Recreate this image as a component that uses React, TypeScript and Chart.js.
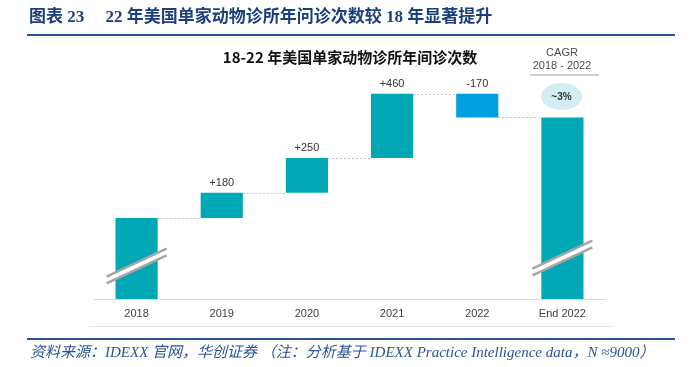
import React, { useEffect, useRef } from 'react';
import { Chart, registerables } from 'chart.js';

Chart.register(...registerables);

// ---- data ----
const categories = ['2018', '2019', '2020', '2021', '2022', 'End 2022'];
const start2018 = 5740; // value of 2018 is not printed (broken bar); estimated
const changes = [180, 250, 460, -170];
const changeLabels = ['+180', '+250', '+460', '-170'];
const axisMin = 5160;
const axisMax = 6728;
const cagrHeader = ['CAGR', '2018 - 2022'];
const cagrLabel = '~3%';
const titleText = '图表 23\u3000 22 年美国单家动物诊所年问诊次数较 18 年显著提升';
const chartTitle = '18-22 年美国单家动物诊所年间诊次数';
const sourceText = '资料来源：IDEXX 官网，华创证券 （注：分析基于 IDEXX Practice Intelligence data，N ≈9000）';

const TEAL = '#00A7B5';
const BLUE = '#00A0E0';

function buildRanges(): [number, number][] {
  const ranges: [number, number][] = [[axisMin, start2018]];
  let total = start2018;
  for (const c of changes) {
    ranges.push([total, total + c]);
    total += c;
  }
  ranges.push([axisMin, total]);
  return ranges;
}

const ranges = buildRanges();
const barColors = ranges.map((r, i) => (i > 0 && i <= changes.length && changes[i - 1] < 0 ? BLUE : TEAL));

const waterfallPlugin = {
  id: 'waterfallDecor',
  afterDatasetsDraw(chart: any) {
    const ctx = chart.ctx;
    const meta = chart.getDatasetMeta(0);
    const y = chart.scales.y;
    const area = chart.chartArea;
    ctx.save();
    // dotted connectors
    ctx.setLineDash([2, 2]);
    ctx.strokeStyle = '#bdbdbd';
    ctx.lineWidth = 1;
    for (let i = 0; i < ranges.length - 1; i++) {
      const b = meta.data[i];
      const nb = meta.data[i + 1];
      const py = Math.round(y.getPixelForValue(ranges[i][1])) + 0.5;
      ctx.beginPath();
      ctx.moveTo(b.x + b.width / 2, py);
      ctx.lineTo(nb.x - nb.width / 2, py);
      ctx.stroke();
    }
    ctx.setLineDash([]);
    // change labels
    ctx.fillStyle = '#333333';
    ctx.font = '11px "Liberation Sans", Arial, sans-serif';
    ctx.textAlign = 'center';
    ctx.textBaseline = 'bottom';
    for (let i = 1; i <= changes.length; i++) {
      const b = meta.data[i];
      const top = Math.min(y.getPixelForValue(ranges[i][0]), y.getPixelForValue(ranges[i][1]));
      ctx.fillText(changeLabels[i - 1], b.x, top - 4);
    }
    // axis-break marks on the two full bars
    const breaks: [number, number][] = [[0, 33], [ranges.length - 1, 41]];
    for (const [idx, off] of breaks) {
      const b = meta.data[idx];
      const cx = b.x;
      const cy = area.bottom - off;
      const hw = 30;
      const dy = 14;
      ctx.strokeStyle = '#ffffff';
      ctx.lineWidth = 7;
      ctx.beginPath();
      ctx.moveTo(cx - hw, cy + dy);
      ctx.lineTo(cx + hw, cy - dy);
      ctx.stroke();
      ctx.strokeStyle = '#a6a6a6';
      ctx.lineWidth = 2.6;
      for (const s of [-3.4, 3.4]) {
        ctx.beginPath();
        ctx.moveTo(cx - hw, cy + dy + s);
        ctx.lineTo(cx + hw, cy - dy + s);
        ctx.stroke();
      }
    }
    ctx.restore();
  },
};

export default function App() {
  const canvasRef = useRef<HTMLCanvasElement | null>(null);

  useEffect(() => {
    if (!canvasRef.current) return;
    const chart = new Chart(canvasRef.current, {
      type: 'bar',
      data: {
        labels: categories,
        datasets: [
          {
            data: ranges as any,
            backgroundColor: barColors,
            borderWidth: 0,
            categoryPercentage: 0.5,
            barPercentage: 0.99,
          },
        ],
      },
      options: {
        animation: false,
        responsive: false,
        devicePixelRatio: 1,
        layout: { padding: { top: 80, left: 94, right: 88, bottom: 0 } },
        plugins: { legend: { display: false }, tooltip: { enabled: false }, title: { display: false } },
        scales: {
          x: {
            grid: { display: false, drawTicks: false },
            border: { color: '#d9d9d9', width: 1 },
            ticks: {
              color: '#404040',
              font: { family: '"Liberation Sans", Arial, sans-serif', size: 11 },
              padding: 8,
            },
            afterFit: (s: any) => {
              s.height = 68;
            },
          },
          y: { display: false, min: axisMin, max: axisMax },
        },
      },
      plugins: [waterfallPlugin],
    });
    return () => chart.destroy();
  }, []);

  const abs = (o: React.CSSProperties): React.CSSProperties => ({ position: 'absolute', whiteSpace: 'nowrap', margin: 0, ...o });

  return (
    <div style={{ position: 'absolute', left: 0, top: 0, width: 693, height: 367, background: '#fff', overflow: 'hidden' }}>
      <canvas ref={canvasRef} width={693} height={367} style={{ position: 'absolute', left: 0, top: 0, width: 693, height: 367 }} />
      <div
        style={abs({
          left: 29,
          top: 5,
          height: 24,
          lineHeight: '24px',
          fontFamily: '"Liberation Serif", "Noto Sans CJK SC", serif',
          fontWeight: 'bold',
          fontSize: 17,
          color: '#1B3F7C',
        })}
      >
        {titleText}
      </div>
      <div style={abs({ left: 27, top: 34, width: 648, height: 2, background: '#2A5595' })} />
      <div
        style={abs({
          left: 150,
          width: 400,
          top: 46,
          height: 22,
          lineHeight: '22px',
          textAlign: 'center',
          fontFamily: '"Noto Sans CJK SC", "Noto Sans", sans-serif',
          fontWeight: 'bold',
          fontSize: 15,
          color: '#111',
        })}
      >
        {chartTitle}
      </div>
      {cagrHeader.map((t, i) => (
        <div
          key={t}
          style={abs({
            left: 512,
            width: 100,
            top: 45 + i * 13,
            height: 14,
            lineHeight: '14px',
            textAlign: 'center',
            fontFamily: '"Liberation Sans", Arial, sans-serif',
            fontSize: 11,
            color: '#4a4a4a',
          })}
        >
          {t}
        </div>
      ))}
      <div style={abs({ left: 530, top: 74, width: 69, height: 1.5, background: '#d0d0d0' })} />
      <div
        style={abs({
          left: 541,
          top: 83,
          width: 41,
          height: 27,
          borderRadius: '50%',
          background: '#D3EEF3',
          textAlign: 'center',
          lineHeight: '27px',
          fontFamily: '"Liberation Sans", Arial, sans-serif',
          fontWeight: 'bold',
          fontSize: 10,
          color: '#333',
        })}
      >
        {cagrLabel}
      </div>
      <div style={abs({ left: 89, top: 326, width: 524, height: 1, background: '#e3e3e3' })} />
      <div style={abs({ left: 27, top: 338, width: 648, height: 2, background: '#2A5595' })} />
      <div
        style={abs({
          left: 30,
          top: 342,
          height: 20,
          lineHeight: '20px',
          fontFamily: '"Liberation Serif", "Noto Sans CJK SC", serif',
          fontStyle: 'italic',
          fontSize: 15,
          color: '#2A5595',
        })}
      >
        {sourceText}
      </div>
    </div>
  );
}
